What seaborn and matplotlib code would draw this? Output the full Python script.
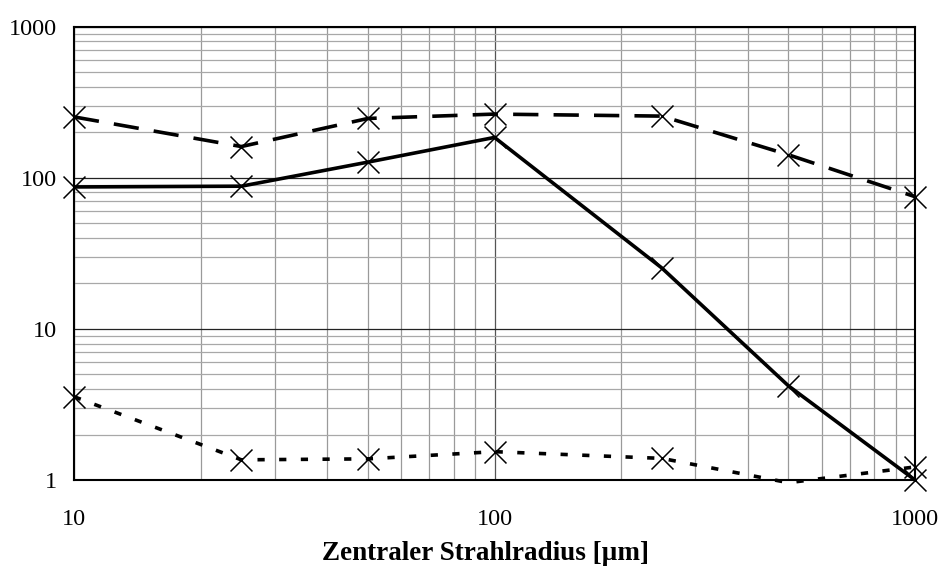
import numpy as np
import pandas as pd
import matplotlib
matplotlib.use("Agg")
import matplotlib.pyplot as plt
from matplotlib.ticker import LogLocator, FixedLocator, NullFormatter
import seaborn as sns

# Zentraler Strahlradius in µm
radius = [10, 25, 50, 100, 250, 500, 1000]

# three measured series
series_dashed = [253, 161, 247, 264, 256, 142, 75]
series_solid = [87, 88, 127, 185, 25.3, 4.2, 1.0]
series_dotted = [3.56, 1.36, 1.38, 1.54, 1.39, 0.96, 1.22]

series_names = ["A", "B", "C"]
x_ticks = [10, 100, 1000]
y_ticks = [1, 10, 100, 1000]
x_label = "Zentraler Strahlradius [µm]"

sns.set_theme(style="white")
plt.rcParams["font.family"] = ["Liberation Serif", "DejaVu Serif"]

df = pd.DataFrame({
    "r": radius * 3,
    "v": series_dashed + series_solid + series_dotted,
    "s": [series_names[0]] * len(radius) + [series_names[1]] * len(radius)
         + [series_names[2]] * len(radius),
})

fig = plt.figure(figsize=(9.41, 5.81), dpi=100)
W, H = 941, 581
ax = fig.add_axes([74 / W, 1 - 480 / H, (915 - 74) / W, (480 - 26.7) / H])

lw = 2.6
dash_styles = {"A": (7.0, 4.2), "B": "", "C": (2.0, 4.0)}
sns.lineplot(data=df, x="r", y="v", style="s", dashes=dash_styles,
             color="black", linewidth=lw, legend=False, ax=ax,
             estimator=None, sort=False)
for line in ax.get_lines():
    line.set_clip_on(False)
    line.set_solid_capstyle("butt")
    line.set_dash_capstyle("butt")

# crosses only for points inside the value range
inside = df[(df["v"] >= 1) & (df["v"] <= 1000)]
sns.scatterplot(data=inside, x="r", y="v", marker="x", s=250,
                color="black", linewidth=1.1, legend=False, ax=ax,
                zorder=5)
for coll in ax.collections:
    coll.set_clip_on(False)

ax.set_xscale("log")
ax.set_yscale("log")
ax.set_xlim(10, 1000)
ax.set_ylim(1, 1000)

ax.xaxis.set_major_locator(FixedLocator(x_ticks))
ax.yaxis.set_major_locator(FixedLocator(y_ticks))
ax.set_xticklabels([str(t) for t in x_ticks])
ax.set_yticklabels([str(t) for t in y_ticks])
ax.xaxis.set_minor_locator(LogLocator(base=10, subs=np.arange(2, 10)))
ax.yaxis.set_minor_locator(LogLocator(base=10, subs=np.arange(2, 10)))
ax.xaxis.set_minor_formatter(NullFormatter())
ax.yaxis.set_minor_formatter(NullFormatter())

ax.grid(False)
ax.grid(True, which="minor", axis="x", color="#9a9a9a", linewidth=0.9)
ax.grid(True, which="major", axis="x", color="#555555", linewidth=0.9)
ax.grid(True, which="minor", axis="y", color="#a8a8a8", linewidth=0.9)
ax.grid(True, which="major", axis="y", color="#222222", linewidth=0.9)
ax.set_axisbelow(True)

ax.tick_params(axis="both", which="major", direction="out", length=5,
               width=1.0, color="black", labelsize=17.5, labelcolor="black")
ax.tick_params(axis="x", which="major", pad=16)
ax.tick_params(axis="y", which="major", pad=7)
ax.tick_params(axis="both", which="minor", length=0)

for sp in ax.spines.values():
    sp.set_visible(True)
    sp.set_color("black")
    sp.set_linewidth(1.5)

ax.set_xlabel(x_label, fontsize=19.5, fontweight="bold", color="black")
ax.xaxis.set_label_coords(0.489, -0.135)
ax.set_ylabel("")

fig.savefig("out.png", dpi=100, facecolor="white")
